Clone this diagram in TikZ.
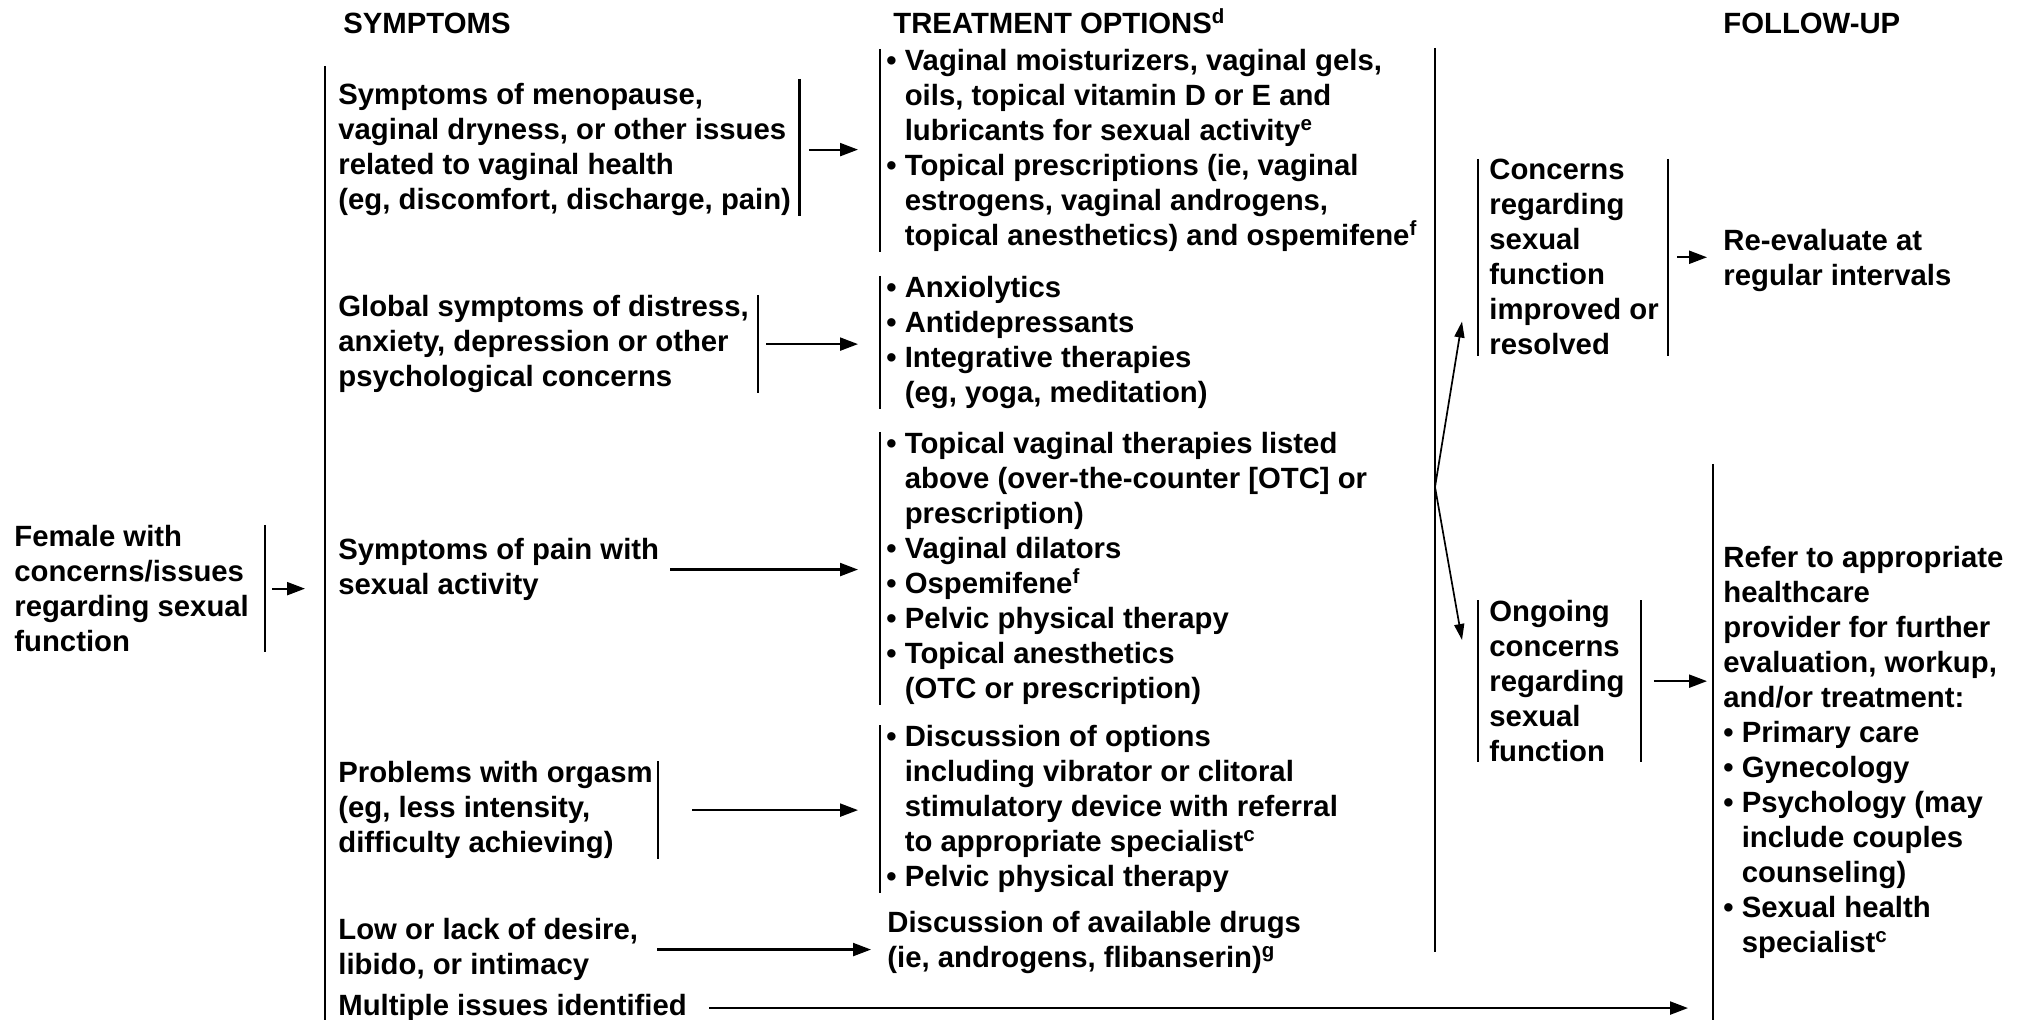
\documentclass[tikz,border=0pt]{standalone}
\usepackage{fontspec}
\setmainfont{Liberation Sans}
\usetikzlibrary{arrows.meta, positioning}
\newcommand{\indt}{\hphantom{\textbullet\ }}

\begin{document}
\begin{tikzpicture}[x=0.5pt, y=-0.5pt,
        every node/.style={font=\fontsize{14.65}{17.5}\selectfont\bfseries},
        txt/.style={align=left, anchor=north west, inner sep=0pt},
        head/.style={anchor=base west, inner sep=0pt},
        bar/.style={draw, line width=1.1pt},
        line/.style={draw, -{Triangle[length=9pt, width=6.5pt]}, line width=1.1pt},
        thinline/.style={draw, -{Triangle[length=8pt, width=5pt]}, line width=0.85pt}]

        \useasboundingbox (0,0) rectangle (2021,1020);

        \node [head] (hsym) at (343,34) {SYMPTOMS};
        \node [head] (htrt) at (893,34) {TREATMENT OPTIONS\textsuperscript{d}};
        \node [head] (hfol) at (1723,34) {FOLLOW-UP};

        \node [txt] (fem) at (14,525) {Female with\\concerns/issues\\regarding sexual\\function};

        \node [txt] (s1) at (338,83) {Symptoms of menopause,\\vaginal dryness, or other issues\\related to vaginal health\\(eg, discomfort, discharge, pain)};
        \node [txt] (s2) at (338,295) {Global symptoms of distress,\\anxiety, depression or other\\psychological concerns};
        \node [txt] (s3) at (338,538) {Symptoms of pain with\\sexual activity};
        \node [txt] (s4) at (338,761) {Problems with orgasm\\(eg, less intensity,\\difficulty achieving)};
        \node [txt] (s5) at (338,918) {Low or lack of desire,\\libido, or intimacy};
        \node [txt] (s6) at (338,994) {Multiple issues identified};

        \node [txt] (t1) at (886,49) {\textbullet\ Vaginal moisturizers, vaginal gels,\\\indt oils, topical vitamin D or E and\\\indt lubricants for sexual activity\textsuperscript{e}\\\textbullet\ Topical prescriptions (ie, vaginal\\\indt estrogens, vaginal androgens,\\\indt topical anesthetics) and ospemifene\textsuperscript{f}};
        \node [txt] (t2) at (886,276) {\textbullet\ Anxiolytics\\\textbullet\ Antidepressants\\\textbullet\ Integrative therapies\\\indt (eg, yoga, meditation)};
        \node [txt] (t3) at (886,432) {\textbullet\ Topical vaginal therapies listed\\\indt above (over-the-counter [OTC] or\\\indt prescription)\\\textbullet\ Vaginal dilators\\\textbullet\ Ospemifene\textsuperscript{f}\\\textbullet\ Pelvic physical therapy\\\textbullet\ Topical anesthetics\\\indt (OTC or prescription)};
        \node [txt] (t4) at (886,725) {\textbullet\ Discussion of options\\\indt including vibrator or clitoral\\\indt stimulatory device with referral\\\indt to appropriate specialist\textsuperscript{c}\\\textbullet\ Pelvic physical therapy};
        \node [txt] (t5) at (887,911) {Discussion of available drugs\\(ie, androgens, flibanserin)\textsuperscript{g}};

        \node [txt] (imp) at (1489,159) {Concerns\\regarding\\sexual\\function\\improved or\\resolved};
        \node [txt] (ong) at (1489,600) {Ongoing\\concerns\\regarding\\sexual\\function};

        \node [txt] (reev) at (1723,229) {Re-evaluate at\\regular intervals};
        \node [txt] (refer) at (1723,546) {Refer to appropriate\\healthcare\\provider for further\\evaluation, workup,\\and/or treatment:\\\textbullet\ Primary care\\\textbullet\ Gynecology\\\textbullet\ Psychology (may\\\indt include couples\\\indt counseling)\\\textbullet\ Sexual health\\\indt specialist\textsuperscript{c}};

        \draw [bar] (325,66) coordinate (symtop) -- (325,1020);
        \draw [bar] (1435,48) -- (1435,952);
        \coordinate (split) at (1435,487);
        \draw [bar] (1713,464) coordinate (reftop) -- (1713,1020);

        \draw [bar] ([xshift=8pt]fem.north east) -- ([xshift=8pt]fem.south east);
        \draw [bar] ([xshift=4pt,yshift=2pt]s1.north east) -- ([xshift=4pt]s1.south east);
        \draw [bar] ([xshift=4.5pt]s2.north east) -- ([xshift=4.5pt]s2.south east);
        \draw [bar] ([xshift=2.5pt]s4.north east) -- ([xshift=2.5pt]s4.south east);
        \draw [bar] ([xshift=-3pt]t1.north west) -- ([xshift=-3pt]t1.south west);
        \draw [bar] ([xshift=-3pt]t2.north west) -- ([xshift=-3pt]t2.south west);
        \draw [bar] ([xshift=-3pt]t3.north west) -- ([xshift=-3pt]t3.south west);
        \draw [bar] ([xshift=-3pt]t4.north west) -- ([xshift=-3pt]t4.south west);
        \draw [bar] ([xshift=-5.5pt]imp.north west) -- ([xshift=-5.5pt]imp.south west);
        \draw [bar] ([xshift=4.5pt]imp.north east) -- ([xshift=4.5pt]imp.south east);
        \draw [bar] ([xshift=-5.5pt]ong.north west) -- ([xshift=-5.5pt]ong.south west);
        \draw [bar] ([xshift=8pt]ong.north east) -- ([xshift=8pt]ong.south east);

        \path [line] ([xshift=11.5pt]fem.east) -- ([xshift=-10pt]symtop |- fem.east);
        \path [line] ([xshift=9pt]s1.east) -- ([xshift=-14pt]t1.west |- s1.east);
        \path [line] ([xshift=8.5pt]s2.east) -- ([xshift=-14pt]t2.west |- s2.east);
        \path [line] ([xshift=5.5pt]s3.east) -- ([xshift=-14pt]t3.west |- s3.east);
        \path [line] ([xshift=19.5pt]s4.east) -- ([xshift=-14pt]t4.west |- s4.east);
        \path [line] ([xshift=9.5pt]s5.east) -- ([xshift=-8pt]t5.west |- s5.east);
        \path [line] ([xshift=11pt]s6.east) -- ([xshift=-12.5pt]reftop |- s6.east);
        \path [line] ([xshift=9pt]imp.east) -- ([xshift=-8pt]reev.west |- imp.east);
        \path [line] ([xshift=14.5pt]ong.east) -- ([xshift=-3pt]reftop |- ong.east);
        \path [thinline] (split) -- ([xshift=-13.5pt,yshift=17pt]imp.south west);
        \path [thinline] (split) -- ([xshift=-13.5pt,yshift=-20pt]ong.north west);

    \end{tikzpicture}
\end{document}
